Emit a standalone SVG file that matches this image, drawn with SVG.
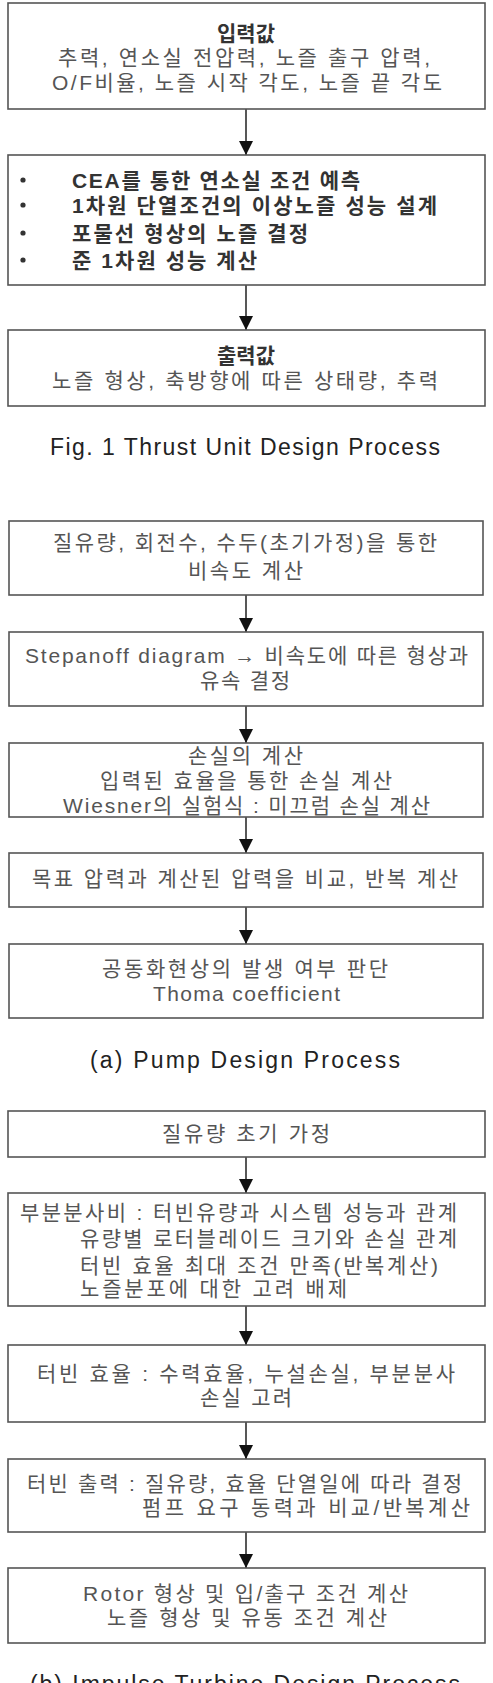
<svg xmlns="http://www.w3.org/2000/svg" width="493" height="1683" viewBox="0 0 493 1683">
<style>
.box{fill:#fff;stroke:#555;stroke-width:1.6}
.t{font-family:"Liberation Sans","Noto Sans CJK KR",sans-serif;font-size:21px;fill:#555}
.b{font-weight:bold;fill:#333}
.cap{font-family:"Liberation Sans","Noto Sans CJK KR",sans-serif;font-size:23px;fill:#222}
.edge{stroke:#111;stroke-width:1.4;fill:none;marker-end:url(#ah)}
</style>
<defs>
<marker id="ah" markerUnits="userSpaceOnUse" markerWidth="14" markerHeight="14" refX="14" refY="7" orient="auto">
<path d="M0,0 L14,7 L0,14 z" fill="#111"/>
</marker>
</defs>
<rect width="493" height="1683" fill="#fff"/>

<g id="connectors">
<line class="edge" x1="246" y1="109" x2="246" y2="155"/>
<line class="edge" x1="246" y1="285" x2="246" y2="330"/>
<line class="edge" x1="246" y1="595" x2="246" y2="632"/>
<line class="edge" x1="246" y1="706" x2="246" y2="743"/>
<line class="edge" x1="246" y1="817" x2="246" y2="853"/>
<line class="edge" x1="246" y1="907" x2="246" y2="944"/>
<line class="edge" x1="246" y1="1157" x2="246" y2="1193"/>
<line class="edge" x1="246" y1="1306" x2="246" y2="1345"/>
<line class="edge" x1="246" y1="1422" x2="246" y2="1459"/>
<line class="edge" x1="246" y1="1532" x2="246" y2="1568"/>
</g>

<g id="thrust-input">
<rect class="box" x="8" y="3" width="477" height="106"/>
<text class="t b" x="246" y="41" text-anchor="middle">입력값</text>
<text class="t" x="58" y="65" textLength="372" lengthAdjust="spacing">추력, 연소실 전압력, 노즐 출구 압력,</text>
<text class="t" x="52" y="90" textLength="390" lengthAdjust="spacing">O/F비율, 노즐 시작 각도, 노즐 끝 각도</text>
</g>

<g id="thrust-process">
<rect class="box" x="8" y="155" width="477" height="130"/>
<circle cx="23" cy="180" r="2.6" fill="#333"/>
<circle cx="23" cy="205" r="2.6" fill="#333"/>
<circle cx="23" cy="233" r="2.6" fill="#333"/>
<circle cx="23" cy="260" r="2.6" fill="#333"/>
<text class="t b" x="72" y="188" textLength="288" lengthAdjust="spacing">CEA를 통한 연소실 조건 예측</text>
<text class="t b" x="72" y="213" textLength="365" lengthAdjust="spacing">1차원 단열조건의 이상노즐 성능 설계</text>
<text class="t b" x="72" y="241" textLength="236" lengthAdjust="spacing">포물선 형상의 노즐 결정</text>
<text class="t b" x="72" y="268" textLength="185" lengthAdjust="spacing">준 1차원 성능 계산</text>
</g>

<g id="thrust-output">
<rect class="box" x="8" y="330" width="477" height="76"/>
<text class="t b" x="246" y="363" text-anchor="middle">출력값</text>
<text class="t" x="52" y="388" textLength="386" lengthAdjust="spacing">노즐 형상, 축방향에 따른 상태량, 추력</text>
</g>

<g id="caption-fig1">
<text class="cap" x="50" y="455" textLength="390" lengthAdjust="spacing">Fig. 1 Thrust Unit Design Process</text>
</g>

<g id="pump-1">
<rect class="box" x="9" y="521" width="474" height="74"/>
<text class="t" x="53" y="550" textLength="384" lengthAdjust="spacing">질유량, 회전수, 수두(초기가정)을 통한</text>
<text class="t" x="188" y="578" textLength="115" lengthAdjust="spacing">비속도 계산</text>
</g>

<g id="pump-2">
<rect class="box" x="9" y="632" width="474" height="74"/>
<text class="t" x="25" y="663" textLength="443" lengthAdjust="spacing">Stepanoff diagram → 비속도에 따른 형상과</text>
<text class="t" x="200" y="688" textLength="90" lengthAdjust="spacing">유속 결정</text>
</g>

<g id="pump-3">
<rect class="box" x="9" y="743" width="474" height="74"/>
<text class="t" x="188" y="763" textLength="115" lengthAdjust="spacing">손실의 계산</text>
<text class="t" x="100" y="788" textLength="292" lengthAdjust="spacing">입력된 효율을 통한 손실 계산</text>
<text class="t" x="63" y="813" textLength="367" lengthAdjust="spacing">Wiesner의 실험식 : 미끄럼 손실 계산</text>
</g>

<g id="pump-4">
<rect class="box" x="9" y="853" width="474" height="54"/>
<text class="t" x="32" y="886" textLength="426" lengthAdjust="spacing">목표 압력과 계산된 압력을 비교, 반복 계산</text>
</g>

<g id="pump-5">
<rect class="box" x="9" y="944" width="474" height="74"/>
<text class="t" x="102" y="976" textLength="286" lengthAdjust="spacing">공동화현상의 발생 여부 판단</text>
<text class="t" x="153" y="1001" textLength="187" lengthAdjust="spacing">Thoma coefficient</text>
</g>

<g id="caption-a">
<text class="cap" x="90" y="1068" textLength="310" lengthAdjust="spacing">(a) Pump Design Process</text>
</g>

<g id="turbine-1">
<rect class="box" x="8" y="1111" width="477" height="46"/>
<text class="t" x="162" y="1141" textLength="168" lengthAdjust="spacing">질유량 초기 가정</text>
</g>

<g id="turbine-2">
<rect class="box" x="8" y="1193" width="477" height="113"/>
<text class="t" x="20" y="1220" textLength="437" lengthAdjust="spacing">부분분사비 : 터빈유량과 시스템 성능과 관계</text>
<text class="t" x="80" y="1246" textLength="377" lengthAdjust="spacing">유량별 로터블레이드 크기와 손실 관계</text>
<text class="t" x="80" y="1273" textLength="358" lengthAdjust="spacing">터빈 효율 최대 조건 만족(반복계산)</text>
<text class="t" x="80" y="1296" textLength="267" lengthAdjust="spacing">노즐분포에 대한 고려 배제</text>
</g>

<g id="turbine-3">
<rect class="box" x="8" y="1345" width="477" height="77"/>
<text class="t" x="37" y="1381" textLength="418" lengthAdjust="spacing">터빈 효율 : 수력효율, 누설손실, 부분분사</text>
<text class="t" x="200" y="1405" textLength="92" lengthAdjust="spacing">손실 고려</text>
</g>

<g id="turbine-4">
<rect class="box" x="8" y="1459" width="477" height="73"/>
<text class="t" x="27" y="1491" textLength="435" lengthAdjust="spacing">터빈 출력 : 질유량, 효율 단열일에 따라 결정</text>
<text class="t" x="142" y="1515" textLength="328" lengthAdjust="spacing">펌프 요구 동력과 비교/반복계산</text>
</g>

<g id="turbine-5">
<rect class="box" x="8" y="1568" width="477" height="75"/>
<text class="t" x="83" y="1601" textLength="325" lengthAdjust="spacing">Rotor 형상 및 입/출구 조건 계산</text>
<text class="t" x="107" y="1625" textLength="280" lengthAdjust="spacing">노즐 형상 및 유동 조건 계산</text>
</g>

<g id="caption-b">
<text class="cap" x="30" y="1692" textLength="430" lengthAdjust="spacing">(b) Impulse Turbine Design Process</text>
</g>
</svg>
